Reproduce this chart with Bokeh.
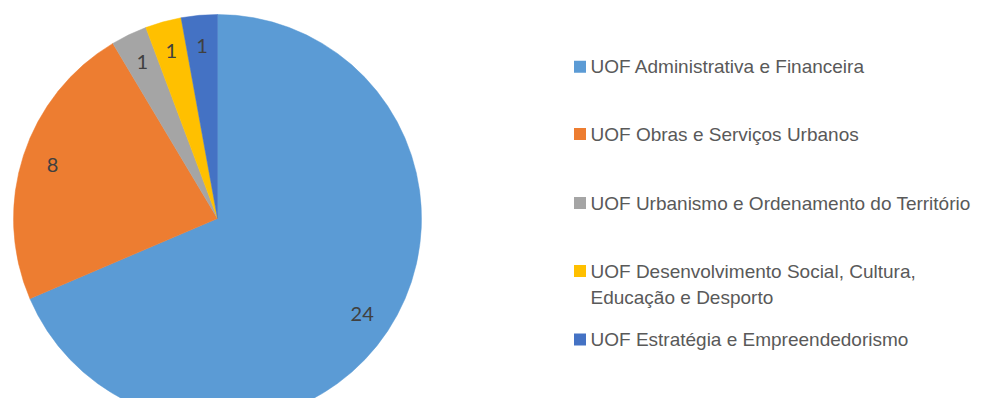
import math
from bokeh.plotting import figure
from bokeh.models import ColumnDataSource
from bokeh.core.properties import value
from bokeh.embed import file_html
from bokeh.resources import INLINE

# ---- data ----
categories = [
    "UOF Administrativa e Financeira",
    "UOF Obras e Serviços Urbanos",
    "UOF Urbanismo e Ordenamento do Território",
    "UOF Desenvolvimento Social, Cultura,\nEducação e Desporto",
    "UOF Estratégia e Empreendedorismo",
]
values = [24, 8, 1, 1, 1]
colors = ["#5B9BD5", "#ED7D31", "#A5A5A5", "#FFC000", "#4472C4"]

# ---- layout (image pixels -> data units, 1 unit = 1 px) ----
W, H = 973, 398
def px(X):
    return X
def py(Y):
    return H - Y

cx, cy, R = px(217), py(218), 204
label_r = 0.85 * R

total = float(sum(values))
starts, ends, lx, ly, labels = [], [], [], [], []
cum = 0.0
for v in values:
    a0 = math.pi / 2 - 2 * math.pi * cum / total
    cum += v
    a1 = math.pi / 2 - 2 * math.pi * cum / total
    starts.append(a0)
    ends.append(a1)
    mid = (a0 + a1) / 2
    lx.append(cx + label_r * math.cos(mid))
    ly.append(cy + label_r * math.sin(mid))
    labels.append(str(v))

pie = ColumnDataSource(dict(start=starts, end=ends, color=colors))
lab = ColumnDataSource(dict(x=lx, y=ly, text=labels))

p = figure(width=W, height=H, x_range=(0, W), y_range=(0, H),
           output_backend="svg", toolbar_location=None, min_border=0)
p.axis.visible = False
p.grid.visible = False
p.outline_line_color = None
p.background_fill_color = "white"
p.border_fill_color = "white"

p.wedge(x=cx, y=cy, radius=R, start_angle="start", end_angle="end",
        direction="clock", fill_color="color", line_color="color",
        line_width=0.5, source=pie)

p.text(x="x", y="y", text="text", source=lab, text_align="center",
       text_baseline="middle", text_font=value("Lato"),
       text_font_size="20px", text_color="#404040")

# ---- legend ----
row_centers = [66.3, 133.5, 202.5, 270.5, 339]   # first line centre
line_step = 26.5
sq_x, sq_size = 579.5, 12
text_x = 590

sq_xs, sq_ys, t_x, t_y, t_text = [], [], [], [], []
for i, name in enumerate(categories):
    c = row_centers[i]
    sq_xs.append(px(sq_x))
    sq_ys.append(py(c))
    for j, line in enumerate(name.split("\n")):
        t_x.append(px(text_x))
        t_y.append(py(c + j * line_step))
        t_text.append(line)

p.rect(x=sq_xs, y=sq_ys, width=sq_size, height=sq_size,
       fill_color=colors, line_color=None)
p.text(x=t_x, y=t_y, text=t_text, text_align="left",
       text_baseline="middle", text_font=value("Liberation Sans"),
       text_font_size="19px", text_color="#595959")

open("out.html", "w").write(file_html(p, INLINE))
